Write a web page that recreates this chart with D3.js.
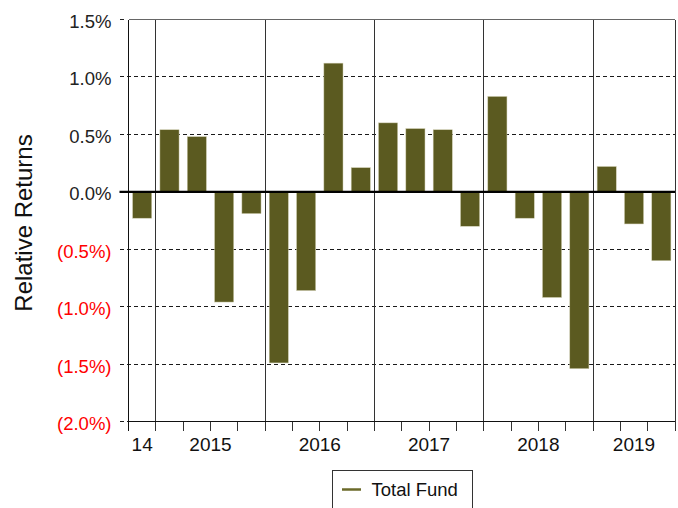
<!DOCTYPE html>
<html>
<head>
<meta charset="utf-8">
<script src="https://cdnjs.cloudflare.com/ajax/libs/d3/7.8.5/d3.min.js"></script>
<style>
  body { margin: 0; background: #fff; }
  text { font-family: "Liberation Sans", Arial, sans-serif; }
</style>
</head>
<body>
<script>
// quarterly relative returns, Q4 2014 .. Q3 2019
var quarters = ["2014Q4",
  "2015Q1", "2015Q2", "2015Q3", "2015Q4",
  "2016Q1", "2016Q2", "2016Q3", "2016Q4",
  "2017Q1", "2017Q2", "2017Q3", "2017Q4",
  "2018Q1", "2018Q2", "2018Q3", "2018Q4",
  "2019Q1", "2019Q2", "2019Q3"];
var returns = [-0.23,
  0.54, 0.48, -0.96, -0.19,
  -1.49, -0.86, 1.12, 0.21,
  0.60, 0.55, 0.54, -0.30,
  0.83, -0.23, -0.92, -1.54,
  0.22, -0.28, -0.60];
var yearLabels = ["14", "2015", "2016", "2017", "2018", "2019"];
var yearStarts = [0, 1, 5, 9, 13, 17];   // index of first quarter of each year
var yearEnds = [1, 5, 9, 13, 17, 20];
var yTicks = [1.5, 1.0, 0.5, 0.0, -0.5, -1.0, -1.5, -2.0];
var seriesName = "Total Fund";

var data = quarters.map(function(q, i) { return {q: q, v: returns[i]}; });

var margin = {top: 19.5, right: 3, bottom: 86.5, left: 128.5};
var width = 678 - margin.left - margin.right,
    height = 508 - margin.top - margin.bottom;

var svg = d3.select("body").append("svg")
  .attr("width", 678)
  .attr("height", 508);

var g = svg.append("g")
  .attr("transform", "translate(" + margin.left + "," + margin.top + ")");

var x = d3.scaleBand()
  .domain(quarters)
  .range([0, width])
  .paddingInner(0.3)
  .paddingOuter(0.15);

var y = d3.scaleLinear()
  .domain([-2.0, 1.5])
  .range([height, 0]);

var step = x.step();
function edge(i) { return i * step; }

var fmt = function(v) {
  var s = Math.abs(v).toFixed(1) + "%";
  return v < 0 ? "(" + s + ")" : s;
};

// dashed gridlines (plus little tick on the left)
g.selectAll(".grid").data(yTicks.filter(function(t) { return t !== 0 && t !== 1.5; }))
  .enter().append("line")
  .attr("class", "grid")
  .attr("x1", -9).attr("x2", width)
  .attr("y1", function(d) { return y(d); })
  .attr("y2", function(d) { return y(d); })
  .style("stroke", "#1a1a1a")
  .style("stroke-width", 1)
  .style("shape-rendering", "crispEdges")
  .style("stroke-dasharray", "4,3");

g.selectAll(".ytick").data([1.5, 0])
  .enter().append("line")
  .attr("x1", -9).attr("x2", -5)
  .attr("y1", function(d) { return y(d); })
  .attr("y2", function(d) { return y(d); })
  .style("shape-rendering", "crispEdges")
  .style("stroke", "#222");

// year separators
var seps = yearStarts.slice(1);
g.selectAll(".sep").data(seps).enter().append("line")
  .attr("x1", function(d) { return edge(d); })
  .attr("x2", function(d) { return edge(d); })
  .attr("y1", 0).attr("y2", height + 9)
  .style("stroke", "#333")
  .style("shape-rendering", "crispEdges")
  .style("stroke-width", 1);

// quarter ticks under the axis
g.selectAll(".xtick").data(d3.range(quarters.length + 1)).enter().append("line")
  .attr("x1", function(d) { return edge(d); })
  .attr("x2", function(d) { return edge(d); })
  .attr("y1", height).attr("y2", height + 9)
  .style("shape-rendering", "crispEdges")
  .style("stroke", "#333");

// bars
g.selectAll(".bar").data(data).enter().append("rect")
  .attr("class", "bar")
  .attr("x", function(d) { return x(d.q); })
  .attr("width", x.bandwidth())
  .attr("y", function(d) { return y(Math.max(0, d.v)); })
  .attr("height", function(d) { return Math.abs(y(d.v) - y(0)); })
  .style("fill", "#5b5a20")
  .style("stroke", "#cfcdb0")
  .style("stroke-width", 0.5);

// frame
g.append("line").attr("x1", 0).attr("x2", width).attr("y1", 0).attr("y2", 0)
  .style("shape-rendering", "crispEdges")
  .style("stroke", "#666");
g.append("line").attr("x1", width).attr("x2", width).attr("y1", 0).attr("y2", height + 9)
  .style("shape-rendering", "crispEdges")
  .style("stroke", "#333");
g.append("line").attr("x1", 0).attr("x2", 0).attr("y1", 0).attr("y2", height + 9)
  .style("shape-rendering", "crispEdges")
  .style("stroke", "#111");
g.append("line").attr("x1", 0).attr("x2", width).attr("y1", height).attr("y2", height)
  .style("shape-rendering", "crispEdges")
  .style("stroke", "#111");

// zero line
g.append("line").attr("x1", -9).attr("x2", width).attr("y1", y(0)).attr("y2", y(0))
  .style("stroke", "#000")
  .style("stroke-width", 2.2);

// y tick labels
g.selectAll(".ylab").data(yTicks).enter().append("text")
  .attr("x", -17)
  .attr("y", function(d) { return y(d); })
  .attr("dy", "0.46em")
  .attr("text-anchor", "end")
  .style("font-size", "18.5px")
  .style("fill", function(d) { return d < 0 ? "#ff0000" : "#222"; })
  .text(fmt);

// year labels
g.selectAll(".xlab").data(yearLabels).enter().append("text")
  .attr("x", function(d, i) { return (edge(yearStarts[i]) + edge(yearEnds[i])) / 2; })
  .attr("y", height + 29)
  .attr("text-anchor", "middle")
  .style("font-size", "19px")
  .style("fill", "#111")
  .text(function(d) { return d; });

// y title
svg.append("text")
  .attr("transform", "translate(32," + 223 + ") rotate(-90)")
  .attr("text-anchor", "middle")
  .style("font-size", "24px")
  .style("fill", "#111")
  .text("Relative Returns");

// legend
var lg = svg.append("g").attr("transform", "translate(332,470)");
lg.append("rect")
  .attr("x", 0.5).attr("y", 0.5)
  .attr("width", 140).attr("height", 50)
  .style("fill", "#fff")
  .style("stroke", "#333");
lg.append("line")
  .attr("x1", 10).attr("x2", 29).attr("y1", 19.5).attr("y2", 19.5)
  .style("stroke", "#6b6a2a")
  .style("stroke-width", 2.5);
lg.append("text")
  .attr("x", 39.5).attr("y", 26)
  .style("font-size", "18.5px")
  .style("fill", "#111")
  .text(seriesName);
</script>
</body>
</html>
